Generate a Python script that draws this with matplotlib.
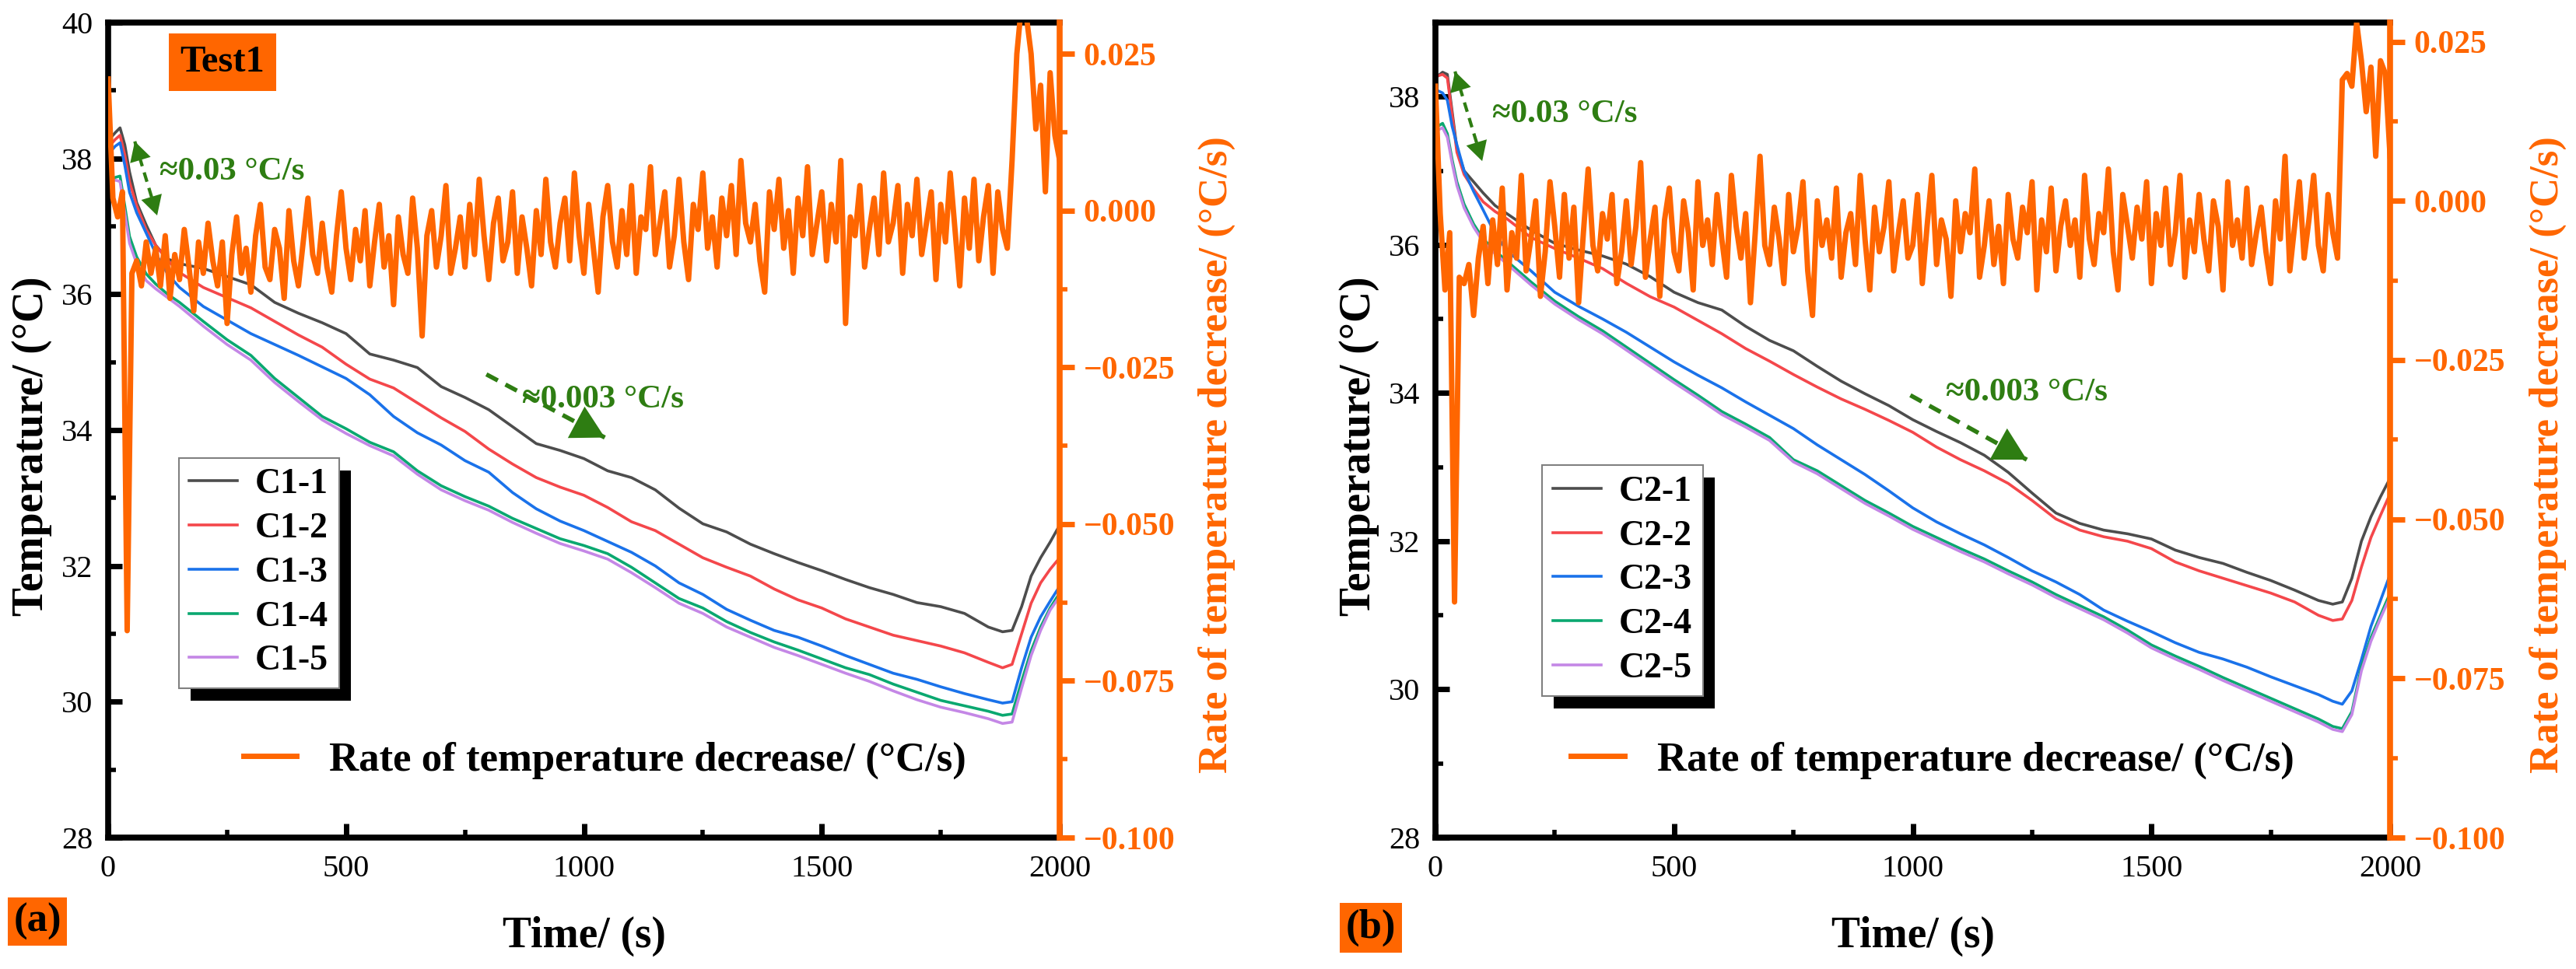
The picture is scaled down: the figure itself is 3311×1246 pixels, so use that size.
import numpy as np
import matplotlib.pyplot as plt
from matplotlib.patches import Rectangle
from matplotlib.transforms import IdentityTransform

plt.rcParams['font.family'] = ['Liberation Serif', 'DejaVu Serif']
plt.rcParams['axes.unicode_minus'] = True

ORANGE = '#FF6600'
GREEN = '#2E7D12'
COLORS = ['#4D4D4D', '#F4474B', '#1A72EA', '#0AA870', '#C487E6']

# time of the temperature readings (s)
time_temp = [5, 15, 25, 35, 45, 60, 80, 100, 125, 150,
             200, 250, 300, 350, 400, 450, 500, 550, 600, 650,
             700, 750, 800, 850, 900, 950, 1000, 1050, 1100, 1150,
             1200, 1250, 1300, 1350, 1400, 1450, 1500, 1550, 1600, 1650,
             1700, 1750, 1800, 1850, 1880, 1900, 1920, 1940, 1960, 1980, 2000]

# Test 1 (panel a)
labels_a = ['C1-1', 'C1-2', 'C1-3', 'C1-4', 'C1-5']
c1_1 = [38.30, 38.38, 38.45, 38.20, 37.80, 37.35, 37.02, 36.72, 36.52, 36.45,
        36.38, 36.26, 36.14, 35.88, 35.72, 35.58, 35.42, 35.12, 35.03, 34.92,
        34.64, 34.48, 34.30, 34.05, 33.80, 33.70, 33.58, 33.40, 33.30, 33.12,
        32.85, 32.62, 32.50, 32.32, 32.18, 32.05, 31.93, 31.80, 31.68, 31.58,
        31.46, 31.40, 31.30, 31.10, 31.03, 31.05, 31.40, 31.85, 32.12, 32.35, 32.60]
c1_2 = [38.20, 38.28, 38.34, 38.05, 37.65, 37.30, 36.95, 36.72, 36.50, 36.32,
        36.10, 35.95, 35.80, 35.60, 35.40, 35.22, 34.97, 34.75, 34.62, 34.40,
        34.18, 33.98, 33.72, 33.50, 33.30, 33.16, 33.04, 32.86, 32.65, 32.52,
        32.32, 32.12, 31.98, 31.85, 31.66, 31.50, 31.38, 31.22, 31.10, 30.98,
        30.90, 30.82, 30.72, 30.58, 30.50, 30.55, 31.00, 31.45, 31.75, 31.95, 32.12]
c1_3 = [38.10, 38.18, 38.23, 37.90, 37.50, 37.20, 36.90, 36.60, 36.30, 36.10,
        35.82, 35.62, 35.42, 35.26, 35.10, 34.93, 34.76, 34.52, 34.20, 33.96,
        33.78, 33.55, 33.38, 33.08, 32.84, 32.66, 32.52, 32.36, 32.20, 32.00,
        31.75, 31.58, 31.36, 31.20, 31.05, 30.95, 30.82, 30.68, 30.55, 30.42,
        30.33, 30.22, 30.12, 30.03, 29.98, 30.00, 30.50, 30.95, 31.25, 31.48, 31.70]
c1_4 = [37.70, 37.72, 37.74, 37.30, 36.85, 36.55, 36.30, 36.15, 36.00, 35.88,
        35.60, 35.33, 35.10, 34.76, 34.48, 34.20, 34.02, 33.82, 33.68, 33.40,
        33.18, 33.02, 32.88, 32.70, 32.55, 32.40, 32.30, 32.18, 31.98, 31.75,
        31.52, 31.38, 31.18, 31.02, 30.88, 30.76, 30.63, 30.50, 30.40, 30.26,
        30.14, 30.02, 29.94, 29.86, 29.80, 29.82, 30.30, 30.75, 31.10, 31.38, 31.60]
c1_5 = [37.65, 37.68, 37.66, 37.20, 36.75, 36.45, 36.20, 36.08, 35.95, 35.82,
        35.53, 35.26, 35.03, 34.70, 34.42, 34.15, 33.95, 33.77, 33.62, 33.35,
        33.12, 32.96, 32.82, 32.64, 32.48, 32.33, 32.22, 32.10, 31.90, 31.68,
        31.45, 31.30, 31.10, 30.95, 30.80, 30.68, 30.55, 30.42, 30.30, 30.16,
        30.03, 29.92, 29.84, 29.75, 29.68, 29.70, 30.20, 30.68, 31.05, 31.35, 31.55]

# Test 2 (panel b)
labels_b = ['C2-1', 'C2-2', 'C2-3', 'C2-4', 'C2-5']
c2_1 = [38.28, 38.33, 38.30, 37.80, 37.30, 37.00, 36.85, 36.70, 36.53, 36.42,
        36.20, 36.02, 35.93, 35.85, 35.74, 35.57, 35.36, 35.22, 35.12, 34.90,
        34.71, 34.57, 34.36, 34.16, 33.99, 33.83, 33.64, 33.48, 33.33, 33.16,
        32.93, 32.65, 32.38, 32.24, 32.15, 32.10, 32.03, 31.88, 31.78, 31.70,
        31.58, 31.47, 31.34, 31.20, 31.15, 31.18, 31.50, 32.00, 32.33, 32.60, 32.85]
c2_2 = [38.28, 38.30, 38.25, 37.75, 37.25, 36.95, 36.75, 36.58, 36.45, 36.35,
        36.10, 35.95, 35.82, 35.68, 35.48, 35.30, 35.16, 34.98, 34.80, 34.60,
        34.43, 34.25, 34.08, 33.92, 33.78, 33.63, 33.47, 33.27, 33.10, 32.95,
        32.78, 32.55, 32.30, 32.15, 32.06, 32.00, 31.90, 31.72, 31.60, 31.50,
        31.40, 31.30, 31.18, 31.00, 30.93, 30.95, 31.20, 31.65, 32.05, 32.35, 32.64]
c2_3 = [38.08, 38.05, 37.95, 37.60, 37.35, 37.00, 36.72, 36.47, 36.15, 35.92,
        35.65, 35.36, 35.17, 35.00, 34.82, 34.62, 34.42, 34.24, 34.07, 33.88,
        33.70, 33.52, 33.30, 33.10, 32.90, 32.68, 32.45, 32.26, 32.10, 31.95,
        31.78, 31.60, 31.45, 31.28, 31.07, 30.92, 30.78, 30.63, 30.50, 30.41,
        30.30, 30.17, 30.05, 29.93, 29.84, 29.80, 29.98, 30.40, 30.85, 31.20, 31.55]
c2_4 = [37.60, 37.64, 37.50, 37.15, 36.85, 36.55, 36.28, 36.08, 35.92, 35.78,
        35.50, 35.24, 35.03, 34.84, 34.62, 34.40, 34.18, 33.97, 33.75, 33.58,
        33.40, 33.10, 32.95, 32.75, 32.55, 32.38, 32.20, 32.05, 31.90, 31.76,
        31.60, 31.45, 31.28, 31.13, 30.98, 30.80, 30.60, 30.45, 30.31, 30.16,
        30.02, 29.88, 29.74, 29.60, 29.50, 29.47, 29.70, 30.30, 30.70, 31.00, 31.30]
c2_5 = [37.55, 37.58, 37.45, 37.10, 36.80, 36.50, 36.24, 36.04, 35.88, 35.74,
        35.46, 35.20, 34.99, 34.80, 34.58, 34.36, 34.14, 33.93, 33.71, 33.54,
        33.36, 33.07, 32.91, 32.71, 32.51, 32.34, 32.16, 32.01, 31.86, 31.72,
        31.56, 31.41, 31.24, 31.09, 30.94, 30.76, 30.56, 30.41, 30.27, 30.12,
        29.98, 29.84, 29.70, 29.56, 29.46, 29.43, 29.66, 30.25, 30.65, 30.96, 31.25]

# rate of temperature decrease, sampled every 10 s, in 1e-3 degC/s
time_rate = np.arange(0, 2001, 10)
rate_a_milli = [21, 2, -1, 3, -67, -10, -8, -12, -5, -10,
                -6, -12, -4, -14, -7, -11, -3, -9, -16, -5,
                -10, -2, -8, -12, -5, -18, -7, -1, -10, -6,
                -13, -4, 1, -9, -11, -3, -6, -14, 0, -8,
                -12, -5, 2, -7, -10, -2, -9, -13, -4, 3,
                -6, -11, -3, -8, 0, -12, -5, 1, -9, -4,
                -15, -1, -7, -10, 2, -6, -20, -4, 0, -9,
                -4, 4, -10, -6, -1, -9, 1, -7, 5, -4,
                -11, -2, 2, -8, -5, 3, -10, -1, -6, -12,
                0, -7, 5, -5, -9, -2, 2, -8, 6, -4,
                -10, 1, -6, -13, -1, 4, -5, -9, 0, -7,
                4, -10, -1, -3, 7, -7, -2, 3, -9, -4,
                5, -5, -11, 1, -3, 6, -6, -1, -9, 2,
                -4, 4, -7, 8, -2, -5, 1, -8, -13, 3,
                -3, 5, -6, 0, -10, 2, -4, 7, -7, -2,
                3, -8, 1, -5, 8, -18, -1, -4, 4, -9,
                -3, 2, -7, 6, -5, -2, 4, -10, 1, -4,
                5, -7, -2, 3, -11, 1, -5, 6, -3, -12,
                2, -6, 5, -8, -1, 4, -10, 3, -3, -6,
                8, 25, 33, 31, 25, 13, 20, 3, 22, 12, 8]
rate_b_milli = [18, -2, -14, -5, -63, -12, -13, -10, -18, -9,
                -4, -13, -3, -10, 2, -14, -5, -9, 4, -11,
                -6, 0, -15, -8, 3, -4, -12, 1, -9, -1,
                -16, -5, 5, -7, -11, -2, -6, 1, -13, -8,
                0, -10, -4, 6, -12, -6, -1, -15, -3, 2,
                -8, -11, 0, -5, -14, 3, -7, -3, -10, 1,
                -6, -12, 4, -4, -9, -2, -16, -5, 7, -7,
                -10, -1, -6, -13, 1, -8, -4, 3, -11, -18,
                0, -7, -3, -9, 2, -12, -5, -2, -10, 4,
                -6, -14, -1, -8, -4, 3, -11, -5, 0, -9,
                -7, 1, -13, -4, 4, -10, -3, -6, -15, 0,
                -8, -2, -5, 5, -12, -7, 0, -10, -4, -13,
                1, -6, -9, -1, -5, 3, -14, -3, -8, 2,
                -11, -4, 0, -7, -3, -12, 4, -6, -10, -2,
                -5, 5, -8, -14, 1, -4, -9, -1, -6, 3,
                -13, -2, -7, 2, -10, -5, 4, -12, -3, -8,
                1, -6, -11, 0, -4, -14, 3, -7, -3, -9,
                2, -10, -5, -1, -8, -13, 0, -6, 7, -11,
                -4, 3, -9, -3, 4, -7, -11, 1, -5, -9,
                19, 20, 18, 28, 22, 14, 21, 7, 22, 20, 7]

rate_ticks = [-0.100, -0.075, -0.050, -0.025, 0.000, 0.025]
rate_label = 'Rate of temperature decrease/ (\u00b0C/s)'


def green_arrow(ax, p0, p1, both=False, lw=4, head=55):
    # dashed shaft with solid triangular heads
    ax.plot([p0[0], p1[0]], [p0[1], p1[1]], color=GREEN, lw=lw,
            linestyle=(0, (3, 2)), solid_capstyle='butt', zorder=6)
    ends = [(p1, p0)] + ([(p0, p1)] if both else [])
    for tip, tail in ends:
        back = (tip[0] + 0.05 * (tail[0] - tip[0]), tip[1] + 0.05 * (tail[1] - tip[1]))
        ax.annotate('', xy=tip, xytext=back, zorder=6,
                    arrowprops=dict(arrowstyle='-|>,head_length=0.6,head_width=0.33',
                                    lw=0, color=GREEN, mutation_scale=head,
                                    shrinkA=0, shrinkB=0))


def draw_panel(ax, temps, labels, rate_milli, t_top, r_top, fast, slow):
    lines = []
    for T, lab, c in zip(temps, labels, COLORS):
        ln, = ax.plot(time_temp, T, color=c, lw=2.6, label=lab)
        lines.append(ln)
    ax.set_xlim(0, 2000)
    ax.set_ylim(28, t_top)
    ax.set_xticks([0, 500, 1000, 1500, 2000])
    ax.set_xticks(np.arange(250, 2000, 500), minor=True)
    ax.set_yticks(np.arange(28, t_top + 0.1, 2))
    ax.set_yticks(np.arange(29, t_top + 0.1, 2), minor=True)
    ax.tick_params(which='major', direction='in', length=13, width=5,
                   labelsize=29, pad=14)
    ax.tick_params(which='minor', direction='in', length=7, width=4)
    ax.tick_params(axis='x', pad=16)
    for s in ['left', 'bottom', 'top']:
        ax.spines[s].set_linewidth(5.5)
    ax.spines['right'].set_visible(False)
    ax.set_xlabel('Time/ (s)', fontsize=40, fontweight='bold')
    ax.xaxis.set_label_coords(0.5, -0.121)
    ax.xaxis.label.set_va('center')
    ax.set_ylabel('Temperature/ (\u00b0C)', fontsize=40, fontweight='bold')
    ax.yaxis.set_label_coords(-0.08, 0.48)
    ax.yaxis.label.set_va('center')

    ax2 = ax.twinx()
    rate = np.array(rate_milli) / 1000.0
    rl, = ax2.plot(time_rate, rate, color=ORANGE, lw=5, solid_joinstyle='round')
    ax2.set_ylim(-0.1, r_top)
    ax2.set_yticks(rate_ticks,
                   labels=[f'{v:.3f}'.replace('-', '\u2212') for v in rate_ticks],
                   fontweight='bold')
    ax2.set_yticks(np.arange(-0.0875, 0.02, 0.025), minor=True)
    ax2.tick_params(axis='y', which='major', direction='out', length=14, width=5,
                    colors=ORANGE, labelsize=30, pad=8)
    ax2.tick_params(axis='y', which='minor', direction='out', length=7, width=4,
                    colors=ORANGE)
    for s in ['left', 'bottom', 'top']:
        ax2.spines[s].set_visible(False)
    ax2.spines['right'].set_linewidth(5.5)
    ax2.spines['right'].set_color(ORANGE)
    ax2.set_ylabel(rate_label, fontsize=38, fontweight='bold', color=ORANGE,
                   rotation=90)
    ax2.yaxis.set_label_coords(1.165, 0.47)
    ax2.yaxis.label.set_va('center')

    # green annotations (drawn on the top axes, in temperature units)
    ax3 = ax.figure.add_axes(ax.get_position(), sharex=ax, sharey=ax)
    ax3.set_axis_off()
    (fx0, fy0, fx1, fy1, ftx, fty) = fast
    green_arrow(ax3, (fx0, fy0), (fx1, fy1), both=True, lw=3, head=30)
    ax3.text(ftx, fty, '\u22480.03 \u00b0C/s', color=GREEN, fontsize=31,
             fontweight='bold', ha='left', va='center')
    (sx0, sy0, sx1, sy1, stx, sty) = slow
    green_arrow(ax3, (sx0, sy0), (sx1, sy1), lw=4, head=50)
    ax3.text(stx, sty, '\u22480.003 \u00b0C/s', color=GREEN, fontsize=31,
             fontweight='bold', ha='left', va='center')
    return ax2, lines, rl


fig = plt.figure(figsize=(33.11, 12.46), dpi=100)
axA = fig.add_axes([139 / 3311, 1 - 1077 / 1246, 1223 / 3311, 1048 / 1246])
axB = fig.add_axes([1845 / 3311, 1 - 1077 / 1246, 1227 / 3311, 1048 / 1246])

axA2, linesA, rateA = draw_panel(axA, [c1_1, c1_2, c1_3, c1_4, c1_5], labels_a,
                                 rate_a_milli, 40, 0.030,
                                 (56, 38.25, 103, 37.16, 108, 37.8),
                                 (795, 34.82, 1044, 33.89, 870, 34.45))
axB2, linesB, rateB = draw_panel(axB, [c2_1, c2_2, c2_3, c2_4, c2_5], labels_b,
                                 rate_b_milli, 39, 0.028,
                                 (41, 38.34, 98, 37.13, 119, 37.76),
                                 (995, 33.97, 1239, 33.1, 1070, 34.0))

legs = []
for ax2, lines, rl, lx, ly in [(axA2, linesA, rateA, 0.074, 0.466),
                               (axB2, linesB, rateB, 0.112, 0.457)]:
    leg = ax2.legend(handles=lines, loc='upper left', bbox_to_anchor=(lx, ly),
                     borderaxespad=0, prop={'size': 33, 'weight': 'bold'},
                     handlelength=1.35, handletextpad=0.5, labelspacing=0.32,
                     borderpad=0.3, fancybox=False, framealpha=1,
                     edgecolor='#808080')
    leg.get_frame().set_linewidth(1.5)
    ax2.add_artist(leg)
    legs.append((ax2, leg))
    ax2.legend(handles=[rl], labels=[rate_label], loc='center left',
               bbox_to_anchor=(0.142, 0.0945), borderaxespad=0, borderpad=0,
               frameon=False, prop={'size': 38, 'weight': 'bold'},
               handlelength=1.3, handletextpad=0.8)

# black offset shadow behind the sample legends
fig.canvas.draw()
renderer = fig.canvas.get_renderer()
for ax2, leg in legs:
    bb = leg.get_frame().get_window_extent(renderer)
    sh = Rectangle((bb.x0 + 15, bb.y0 - 16), bb.width, bb.height,
                   transform=IdentityTransform(), facecolor='black',
                   edgecolor='none', zorder=leg.get_zorder() - 0.5, clip_on=False)
    ax2.add_artist(sh)

# panel tags
fig.text(286 / 3311, 1 - 80 / 1246, 'Test1', fontsize=35, fontweight='bold',
         ha='center', va='center',
         bbox=dict(boxstyle='square,pad=0.3', facecolor=ORANGE, edgecolor='none'))
fig.text(48 / 3311, 1 - 1185 / 1246, '(a)', fontsize=38, fontweight='bold',
         ha='center', va='center',
         bbox=dict(boxstyle='square,pad=0.14', facecolor=ORANGE, edgecolor='none'))
fig.text(1762 / 3311, 1 - 1193 / 1246, '(b)', fontsize=38, fontweight='bold',
         ha='center', va='center',
         bbox=dict(boxstyle='square,pad=0.14', facecolor=ORANGE, edgecolor='none'))

fig.savefig('out.png', dpi=100)
